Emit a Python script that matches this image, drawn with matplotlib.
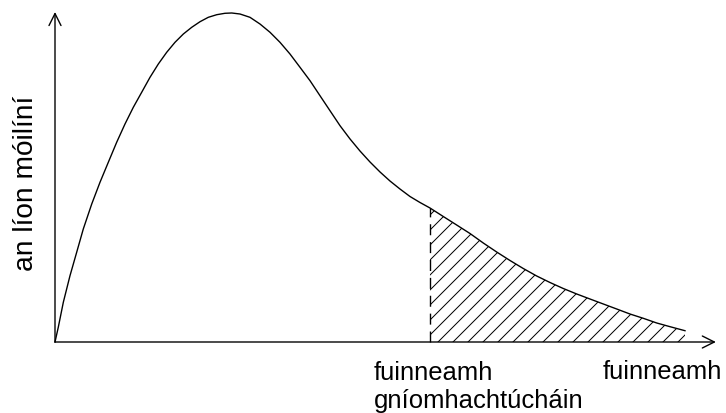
import matplotlib
matplotlib.use('Agg')
import matplotlib.pyplot as plt
import numpy as np

plt.rcParams['font.family'] = ['Liberation Sans', 'DejaVu Sans']
plt.rcParams['hatch.linewidth'] = 0.8

# cuar dáileacháin (luachanna léite ón bpictiúr)
fuinneamh = np.array([0.0, 0.052, 0.132, 0.238, 0.344, 0.449, 0.583, 0.714, 0.846, 0.979,
                      1.111, 1.243, 1.376, 1.508, 1.640, 1.773, 1.905, 2.037, 2.170, 2.302,
                      2.433, 2.567, 2.698, 2.805, 2.937, 3.095, 3.254, 3.413, 3.571, 3.730,
                      3.889, 4.048, 4.206, 4.365, 4.524, 4.683, 4.841, 5.0, 5.159, 5.317,
                      5.476, 5.635, 5.794, 5.952, 6.163, 6.376, 6.587, 6.798, 7.011, 7.222,
                      7.433, 7.646, 7.857, 8.068, 8.281, 8.492, 8.703, 8.916, 9.127, 9.338,
                      9.551, 9.762, 10.0])
lion = np.array([0.0, 0.445, 1.203, 2.009, 2.718, 3.424, 4.182, 4.839, 5.445, 6.052,
                 6.606, 7.112, 7.567, 8.021, 8.424, 8.779, 9.082, 9.333, 9.536, 9.706,
                 9.839, 9.918, 9.961, 9.970, 9.939, 9.839, 9.636, 9.385, 9.082, 8.727,
                 8.324, 7.918, 7.464, 7.009, 6.555, 6.152, 5.788, 5.455, 5.152, 4.879,
                 4.636, 4.409, 4.227, 4.061, 3.803, 3.545, 3.288, 3.0, 2.727, 2.470,
                 2.227, 2.0, 1.803, 1.621, 1.455, 1.303, 1.152, 1.0, 0.848, 0.718,
                 0.576, 0.464, 0.342])
Ea = 5.952
x_max = 10.49
y_max = 10.0

ylabel = 'an líon móilíní'
xlabel = 'fuinneamh'
ealabel = ['fuinneamh', 'gníomhachtúcháin']

fig = plt.figure(figsize=(726 / 90, 414 / 90), dpi=90)
ax = fig.add_axes([0, 0, 1, 1])
ax.set_xlim(-55 / 63, 671 / 63)
ax.set_ylim(-71 / 33, 343 / 33)
ax.axis('off')

ax.plot(fuinneamh, lion, color='black', lw=1.1)

m = fuinneamh >= Ea
ax.fill_between(fuinneamh[m], 0, lion[m], facecolor='none', edgecolor='black',
                hatch='//', linewidth=0)
ax.plot([Ea, Ea], [0, lion[m][0]], color='black', lw=1.1, dashes=(8, 5))

arr = dict(arrowstyle='->, head_length=0.8, head_width=0.4', lw=1.1, color='black',
           shrinkA=0, shrinkB=0, mutation_scale=12)
ax.annotate('', xy=(x_max, 0), xytext=(0, 0), arrowprops=arr)
ax.annotate('', xy=(0, y_max), xytext=(0, 0), arrowprops=arr)

fs = 20.5
ax.annotate(ealabel[0], xy=(Ea, 0), xytext=(-56, -37), textcoords='offset pixels',
            ha='left', va='baseline', fontsize=fs)
ax.annotate(ealabel[1], xy=(Ea, 0), xytext=(-56, -65), textcoords='offset pixels',
            ha='left', va='baseline', fontsize=fs)
ax.annotate(xlabel, xy=(x_max, 0), xytext=(-113, -36), textcoords='offset pixels',
            ha='left', va='baseline', fontsize=fs)
fig.text(26 / 726, 1 - 183 / 414, ylabel, rotation=90, ha='center', va='center', fontsize=22.5)

fig.savefig('out.png', dpi=90)
